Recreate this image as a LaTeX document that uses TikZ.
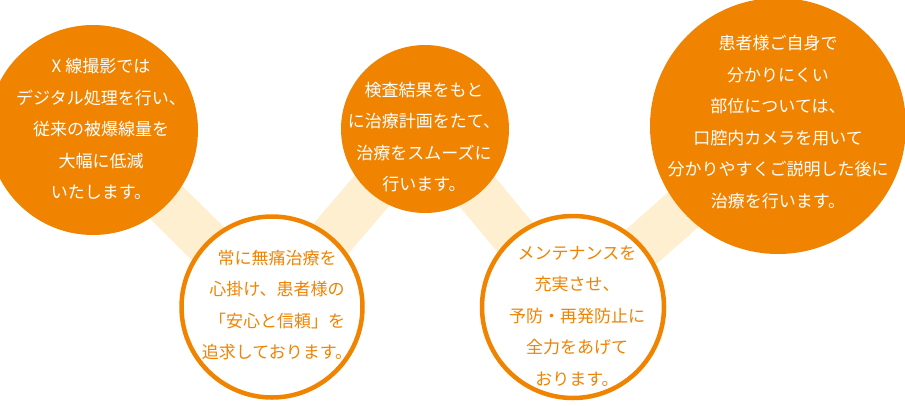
\documentclass[tikz,border=0pt]{standalone}
\usepackage{fontspec}
\newfontfamily\jp{Noto Sans CJK JP}
\definecolor{myorange}{RGB}{240,131,0}
\definecolor{mycream}{RGB}{253,239,208}
\begin{document}
\begin{tikzpicture}[x=1pt,y=-1pt,
  band/.style={draw=mycream,line width=46pt},
  fullc/.style={circle,fill=myorange,draw=none,inner sep=0pt},
  ringc/.style={circle,fill=white,draw=myorange,line width=4.5pt,inner sep=0pt},
  wtxt/.style={text=white,align=center,font=\jp\fontsize{17}{31.5}\selectfont,inner sep=0pt},
  otxt/.style={text=myorange,align=center,font=\jp\fontsize{17}{31.5}\selectfont,inner sep=0pt}]
\useasboundingbox (0,0) rectangle (905,405);
\begin{scope}
\clip (0,0) rectangle (905,405);
\coordinate (p1) at (93,130);
\coordinate (p2) at (272,307);
\coordinate (p3) at (425,129);
\coordinate (p4) at (573,307);
\coordinate (p5) at (778,126);
\draw[band] (p1) -- (p2);
\draw[band] (p2) -- (p3);
\draw[band] (p3) -- (p4);
\draw[band] (p4) -- (p5);
\node[fullc,minimum size=210pt] (c1) at (p1) {};
\node[ringc,minimum size=181pt] (c2) at (p2) {};
\node[fullc,minimum size=168pt] (c3) at (p3) {};
\node[ringc,minimum size=182pt] (c4) at (p4) {};
\node[fullc,minimum size=256pt] (c5) at (p5) {};
\end{scope}
\node[wtxt] (t1) at (101,129) {X 線撮影では\\デジタル処理を行い、\\従来の被爆線量を\\大幅に低減\\いたします。};
\node[otxt] (t2) at (277,305) {常に無痛治療を\\心掛け、患者様の\\「安心と信頼」を\\追求しております。};
\node[wtxt] (t3) at (424,137) {検査結果をもと\\に治療計画をたて、\\治療をスムーズに\\行います。};
\node[otxt] (t4) at (577,316) {メンテナンスを\\充実させ、\\予防・再発防止に\\全力をあげて\\おります。};
\node[wtxt] (t5) at (778,122) {患者様ご自身で\\分かりにくい\\部位については、\\口腔内カメラを用いて\\分かりやすくご説明した後に\\治療を行います。};
\end{tikzpicture}
\end{document}
